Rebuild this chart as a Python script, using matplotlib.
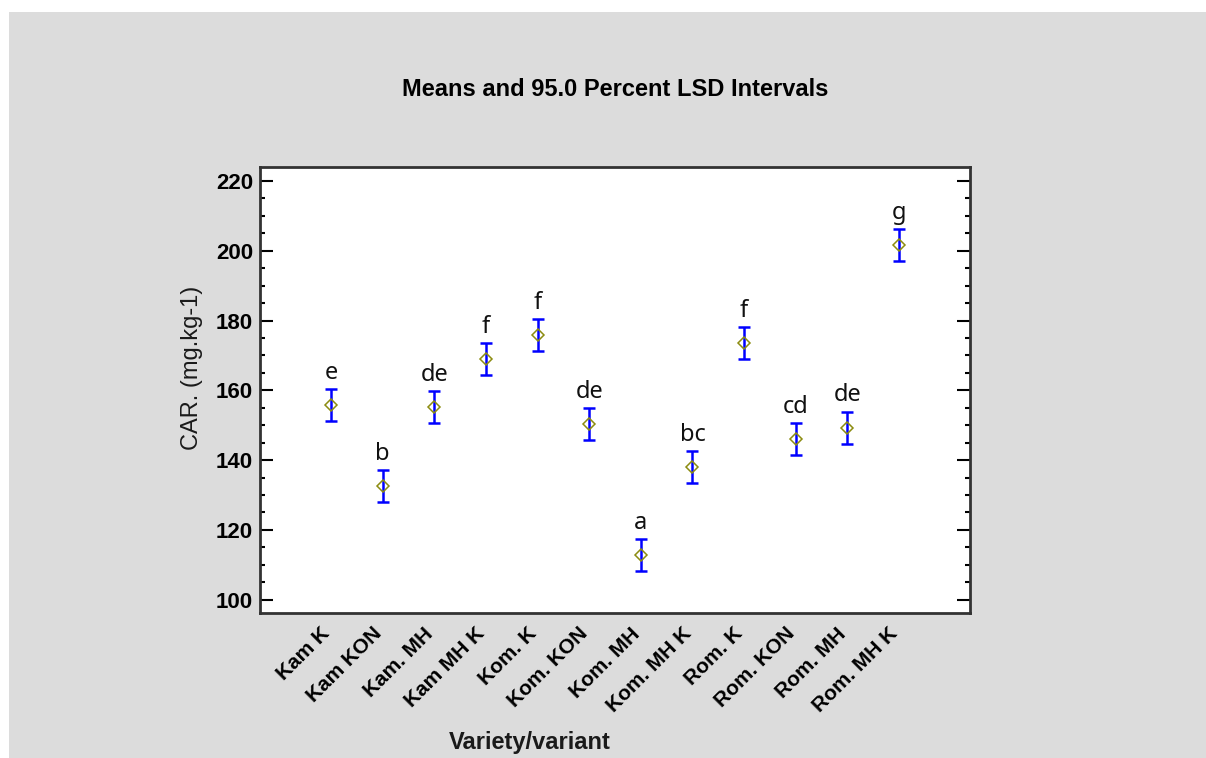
import numpy as np
import matplotlib.pyplot as plt
import matplotlib.transforms as mtrans
from matplotlib.patches import Rectangle
from matplotlib.ticker import MultipleLocator

# data
variants = ["Kam K", "Kam KON", "Kam. MH", "Kam MH K", "Kom. K", "Kom. KON",
            "Kom. MH", "Kom. MH K", "Rom. K", "Rom. KON", "Rom. MH", "Rom. MH K"]
means = [155.8, 132.6, 155.2, 168.9, 175.9, 150.4,
         112.7, 138.0, 173.6, 146.1, 149.3, 201.7]
lsd_half = [4.6, 4.6, 4.6, 4.6, 4.6, 4.6, 4.6, 4.6, 4.6, 4.6, 4.6, 4.6]
groups = ["e", "b", "de", "f", "f", "de", "a", "bc", "f", "cd", "de", "g"]

plt.rcParams['font.family'] = ['Liberation Sans', 'DejaVu Sans']

fig = plt.figure(figsize=(12.06, 7.58), dpi=100)
fig.patch.set_facecolor("white")
# grey panel behind everything
fig.patches.append(Rectangle((9 / 1206, 0), 1, (758 - 12) / 758, transform=fig.transFigure,
                             facecolor="#dcdcdc", edgecolor="none", zorder=-10))

ax = fig.add_axes([260 / 1206, (758 - 613) / 758, 710 / 1206, 446 / 758])
ax.set_facecolor("white")

x = np.arange(len(variants))
ax.errorbar(x, means, yerr=lsd_half, fmt="none", ecolor="#0000ff",
            elinewidth=1.8, capsize=4.5, capthick=1.8, zorder=2)
ax.plot(x, means, linestyle="none", marker="D", markersize=6,
        markerfacecolor="none", markeredgecolor="#8c8c10", markeredgewidth=1.1, zorder=3)

for xi, m, h, g in zip(x, means, lsd_half, groups):
    ax.annotate(g, (xi, m + h), xytext=(0, 3), textcoords="offset points",
                ha="center", va="bottom", fontsize=17, family="Noto Sans", color="#111111")

ax.set_xlim(-1.376, len(variants) - 1 + 1.376)
ax.set_ylim(96.2, 224)
ax.yaxis.set_major_locator(MultipleLocator(20))
ax.yaxis.set_minor_locator(MultipleLocator(5))
ax.tick_params(axis="y", which="both", direction="in", left=True, right=True, width=1.5)
ax.tick_params(axis="y", which="major", length=9.5, labelsize=16, pad=5)
ax.tick_params(axis="y", which="minor", length=3.6)
for lab in ax.get_yticklabels():
    lab.set_fontweight("bold")

ax.set_xticks(x)
ax.set_xticklabels(variants, rotation=45, ha="right", va="top", rotation_mode="anchor",
                   fontsize=15, fontweight="bold")
ax.tick_params(axis="x", length=0, pad=8)
shift = mtrans.ScaledTranslation(-11 / 100, 0, fig.dpi_scale_trans)
for lab in ax.get_xticklabels():
    lab.set_transform(lab.get_transform() + shift)

for sp in ax.spines.values():
    sp.set_linewidth(2)
    sp.set_color("#333333")

ax.set_ylabel("CAR. (mg.kg-1)", fontsize=17, color="#1a1a1a")
ax.yaxis.set_label_coords(-0.08, 0.55)

fig.text(530 / 1206, 1 - 743 / 758, "Variety/variant", ha="center", va="center",
         fontsize=17, fontweight="bold", color="#1a1a1a")
fig.text(615 / 1206, 1 - 90 / 758, "Means and 95.0 Percent LSD Intervals", ha="center", va="center",
         fontsize=17, fontweight="bold")

fig.savefig("out.png", dpi=100)
